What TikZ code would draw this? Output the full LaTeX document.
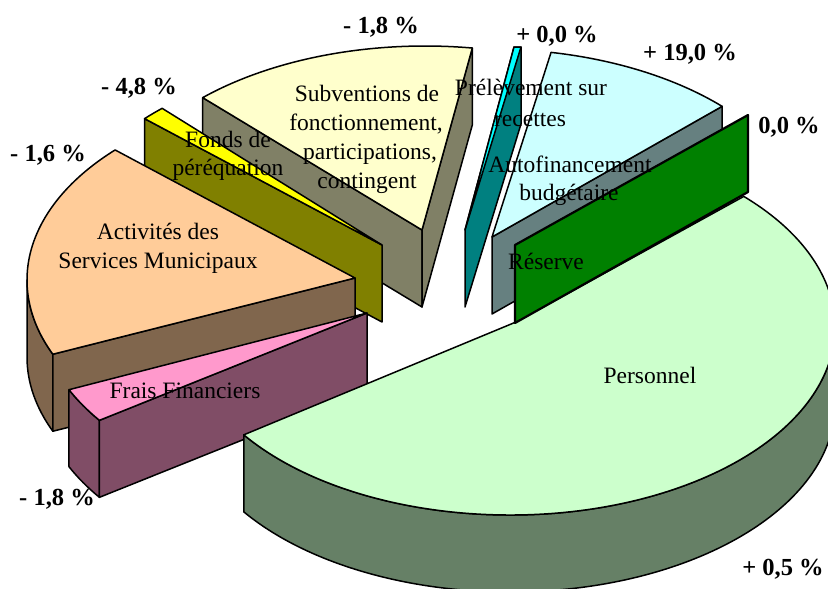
\documentclass[tikz,border=0pt]{standalone}
\usepackage{fontspec}
\setmainfont{Liberation Serif}
\usetikzlibrary{calc}

\definecolor{persTop}{HTML}{CCFFCC}
\definecolor{persSide}{HTML}{668066}
\definecolor{autoTop}{HTML}{CCFFFF}
\definecolor{autoSide}{HTML}{668080}
\definecolor{resFace}{HTML}{008000}
\definecolor{prelTop}{HTML}{00FFFF}
\definecolor{prelSide}{HTML}{008080}
\definecolor{subvTop}{HTML}{FFFFCC}
\definecolor{subvSide}{HTML}{808066}
\definecolor{fondsTop}{HTML}{FFFF00}
\definecolor{fondsSide}{HTML}{808000}
\definecolor{actTop}{HTML}{FFCC99}
\definecolor{actSide}{HTML}{80664D}
\definecolor{fraisTop}{HTML}{FF99CC}
\definecolor{fraisSide}{HTML}{804D66}

\tikzset{
  face/.style={draw=black, line width=1.5pt, line join=round},
  catlabel/.style={font=\fontsize{23.5}{30}\selectfont, anchor=base, inner sep=0pt},
  pctlabel/.style={font=\fontsize{24.5}{30}\selectfont\bfseries, anchor=base, inner sep=0pt},
  ellBig/.style={x radius=325, y radius=188},
  ellBack/.style={x radius=320, y radius=184},
  ellFront/.style={x radius=325, y radius=190},
}

\begin{document}
\begin{tikzpicture}[x=1pt, y=-1pt]
\useasboundingbox (0,0) rectangle (828,589);

% ---------- Subventions de fonctionnement (back left) ----------
\coordinate (cS) at (425,230);
\coordinate (aS) at (422,230);
\coordinate (sL) at ($(cS)+(-134:320 and 184)$);
\coordinate (sR) at ($(cS)+(-81.5:320 and 184)$);
\filldraw[face, fill=subvSide] (sL) -- (aS) -- ++(0,77) -- ($(sL)+(0,77)$) -- cycle;
\filldraw[face, fill=subvSide] (aS) -- (sR) -- ++(0,77) -- ($(aS)+(0,77)$) -- cycle;
\filldraw[face, fill=subvTop] (aS) -- (sL) arc[ellBack, start angle=-134, end angle=-81.5] -- cycle;

% ---------- Prelevement sur recettes (thin slice) ----------
\coordinate (aPr) at (465,230);
\coordinate (prL) at (514,47);
\coordinate (prR) at (521,47);
\filldraw[face, fill=prelSide] (aPr) -- (prL) -- (prR) -- ++(0,77) -- ($(aPr)+(0,77)$) -- cycle;
\filldraw[face, fill=prelTop] (aPr) -- (prL) -- (prR) -- cycle;

% ---------- Autofinancement budgetaire ----------
\coordinate (cA) at (490,233);
\coordinate (aA) at (492,237);
\coordinate (autL) at ($(cA)+(-79:320 and 184)$);
\coordinate (autR) at ($(cA)+(-43.5:320 and 184)$);
\filldraw[face, fill=autoSide] (aA) -- (autR) -- ++(0,77) -- ($(aA)+(0,77)$) -- cycle;
\filldraw[face, fill=autoTop] (aA) -- (autL) arc[ellBack, start angle=-79, end angle=-43.5] -- cycle;

% ---------- Fonds de perequation (thin slice) ----------
\coordinate (cF) at (382,242);
\coordinate (aF) at (382,245);
\coordinate (fL) at ($(cF)+(-137.9:320 and 184)$);
\filldraw[face, fill=fondsSide] (fL) -- (aF) -- ++(0,77) -- ($(fL)+(0,77)$) -- cycle;
\filldraw[face, fill=fondsTop] (aF) -- (fL) arc[ellBack, start angle=-137.9, end angle=-133.4] -- cycle;

% ---------- Activites des Services Municipaux ----------
\coordinate (cAc) at (352,280);
\coordinate (aAc) at (355,278);
\coordinate (acF) at ($(cAc)+(157:325 and 190)$);
\filldraw[face, fill=actSide] (acF) arc[ellFront, start angle=157, end angle=180] -- ++(0,77)
  arc[ellFront, start angle=180, end angle=157] -- cycle;
\filldraw[face, fill=actSide] (aAc) -- (acF) -- ++(0,77) -- ($(aAc)+(0,77)$) -- cycle;
\filldraw[face, fill=actTop] (aAc) -- (acF) arc[ellFront, start angle=157, end angle=223.2] -- cycle;

% ---------- Frais Financiers ----------
\coordinate (cFr) at (364,310);
\coordinate (aFr) at (367,313);
\coordinate (frF) at ($(cFr)+(144.5:325 and 190)$);
\filldraw[face, fill=fraisSide] (frF) arc[ellFront, start angle=144.5, end angle=155.2] -- ++(0,77)
  arc[ellFront, start angle=155.2, end angle=144.5] -- cycle;
\filldraw[face, fill=fraisSide] (aFr) -- (frF) -- ++(0,77) -- ($(aFr)+(0,77)$) -- cycle;
\filldraw[face, fill=fraisTop] (aFr) -- (frF) arc[ellFront, start angle=144.5, end angle=155.2] -- cycle;

% ---------- Personnel (front, large slice) ----------
\coordinate (cP) at (510,327);
\coordinate (aP) at (516,322);
\coordinate (pL) at ($(cP)+(145:325 and 188)$);
\filldraw[face, fill=persSide] (pL) arc[ellBig, start angle=145, end angle=0] -- ++(0,77)
  arc[ellBig, start angle=0, end angle=145] -- cycle;
\filldraw[face, fill=persTop] (aP) -- (pL) arc[ellBig, start angle=145, end angle=-44] -- cycle;

% ---------- Reserve (zero slice, only its cut face) ----------
\coordinate (r1) at (515,245);
\coordinate (r2) at (748,115);
\coordinate (r3) at (748,192);
\coordinate (r4) at (515,323);
\filldraw[face, line width=2.2pt, fill=resFace] (r1) -- (r2) -- (r3) -- (r4) -- cycle;

% ---------- category names ----------
\node[catlabel] (subv1) at (367,101) {Subventions de};
\node[catlabel] (subv2) at (366,130) {fonctionnement,};
\node[catlabel] (subv3) at (370,159) {participations,};
\node[catlabel] (subv4) at (367,188) {contingent};
\node[catlabel] (fonds1) at (228,147) {Fonds de};
\node[catlabel] (fonds2) at (228,175) {péréquation};
\node[catlabel] (prel1) at (531,95) {Prélèvement sur};
\node[catlabel] (prel2) at (530,126) {recettes};
\node[catlabel] (auto1) at (570,172) {Autofinancement};
\node[catlabel] (auto2) at (569,200) {budgétaire};
\node[catlabel] (res) at (546,269) {Réserve};
\node[catlabel] (act1) at (158,239) {Activités des};
\node[catlabel] (act2) at (158,268) {Services Municipaux};
\node[catlabel] (frais) at (185,398) {Frais Financiers};
\node[catlabel] (pers) at (650,383) {Personnel};

% ---------- variations ----------
\node[pctlabel] (vSubv) at (381,33) {- 1,8 \%};
\node[pctlabel] (vPrel) at (557,42) {+ 0,0 \%};
\node[pctlabel] (vAuto) at (690,60) {+ 19,0 \%};
\node[pctlabel] (vRes) at (789,133) {0,0 \%};
\node[pctlabel] (vFonds) at (139,94) {- 4,8 \%};
\node[pctlabel] (vAct) at (48,161) {- 1,6 \%};
\node[pctlabel] (vFrais) at (57,505) {- 1,8 \%};
\node[pctlabel] (vPers) at (783,575) {+ 0,5 \%};
\end{tikzpicture}
\end{document}
